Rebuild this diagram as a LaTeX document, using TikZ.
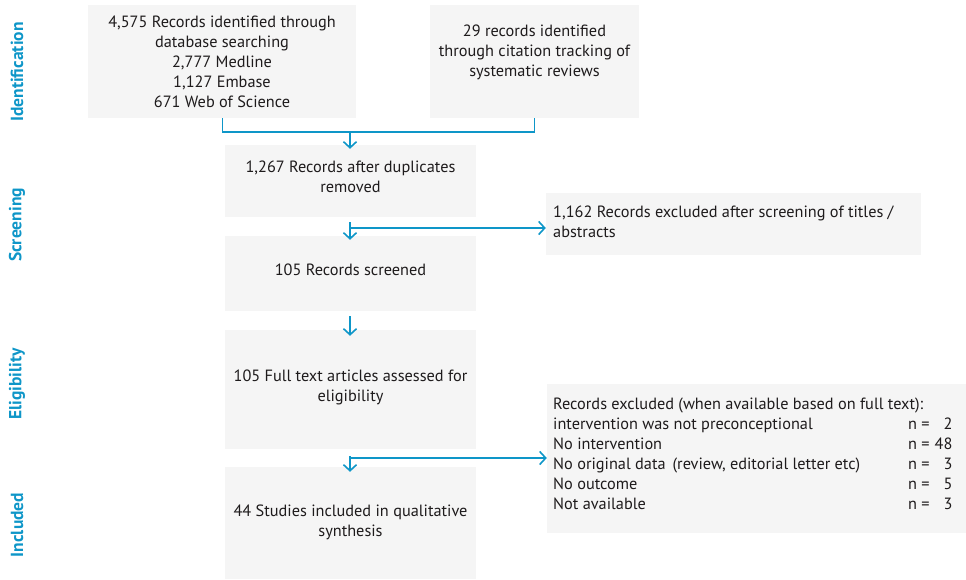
\documentclass[tikz,border=0pt]{standalone}
\usepackage{fontspec}
\setmainfont{PT Sans}
\usetikzlibrary{arrows.meta}
\definecolor{flowblue}{HTML}{0E96C8}
\definecolor{boxfill}{HTML}{F5F5F5}
\definecolor{inktext}{HTML}{1E1B1C}
\tikzset{
  panel/.style={fill=boxfill, draw=none, inner sep=0pt},
  body/.style={font=\fontsize{16.3}{20}\selectfont, text=inktext, inner sep=0pt},
  stage/.style={font=\fontsize{17.5}{20}\selectfont\bfseries, text=flowblue, rotate=90, inner sep=0pt},
  link/.style={draw=flowblue, line width=1.6pt},
  flow/.style={link, -{Straight Barb[length=6pt,width=13pt,line width=1.6pt]}},
}
\begin{document}
\begin{tikzpicture}[x=1pt, y=-1pt]
\useasboundingbox (0,0) rectangle (966,579);

% stage labels
\node[stage] (lid) at (17,72) {Identification};
\node[stage] (lsc) at (17,225) {Screening};
\node[stage] (lel) at (17,384) {Eligibility};
\node[stage] (lin) at (17,525) {Included};

% boxes
\node[panel, minimum width=268pt, minimum height=113pt] (dbs) at (222,61.5) {};
\node[panel, minimum width=209pt, minimum height=113pt] (cit) at (534.5,61.5) {};
\node[panel, minimum width=251pt, minimum height=72pt] (dup) at (350.5,181) {};
\node[panel, minimum width=251pt, minimum height=75pt] (scr) at (350.5,273.5) {};
\node[panel, minimum width=251pt, minimum height=119pt] (ful) at (350.5,389.5) {};
\node[panel, minimum width=251pt, minimum height=112pt] (inc) at (350.5,523) {};
\node[panel, minimum width=375pt, minimum height=62pt] (ex1) at (733.5,224) {};
\node[panel, minimum width=419pt, minimum height=149pt] (ex2) at (756.5,458.5) {};

% texts
\node[body, align=center] (tdbs) at (222,62) {4,575 Records identified through\\database searching\\2,777 Medline\\1,127 Embase\\671 Web of Science};
\node[body, align=center] (tcit) at (534.5,52) {29 records identified\\through citation tracking of\\systematic reviews};
\node[body, align=center] (tdup) at (350.5,177) {1,267 Records after duplicates\\removed};
\node[body, align=center] (tscr) at (350.5,270) {105 Records screened};
\node[body, align=center] (tful) at (350.5,387) {105 Full text articles assessed for\\eligibility};
\node[body, align=center] (tinc) at (350.5,522) {44 Studies included in qualitative\\synthesis};
\node[body, align=left, anchor=west] (tex1) at (553,221.5) {1,162 Records excluded after screening of titles /\\abstracts};
\node[body, anchor=west] (tex2) at (553,455) {\renewcommand\arraystretch{1}%
\begin{tabular}{@{}p{355pt}@{}l@{\hspace{5pt}}r@{}}
\multicolumn{3}{@{}l@{}}{Records excluded (when available based on full text):}\\
intervention was not preconceptional & n = & 2\\
No intervention & n = & 48\\
No original data\ \,(review, editorial letter etc) & n = & 3\\
No outcome & n = & 5\\
Not available & n = & 3
\end{tabular}};

% connectors
\coordinate (join) at (350,132);
\coordinate (cutA) at (350,228);
\coordinate (cutB) at (350,458);
\draw[link] ([xshift=0.5pt]dbs.south) |- (join) -| (cit.south);
\draw[flow, shorten >=-4pt] (join) -- (dup.north -| join);
\draw[flow, shorten <=5pt, shorten >=-4pt] (dup.south -| join) -- (scr.north -| join);
\draw[flow] (cutA) -- (ex1.west |- cutA);
\draw[flow, shorten <=5pt, shorten >=-6pt] (scr.south -| join) -- (ful.north -| join);
\draw[flow, shorten <=7pt, shorten >=-5pt] (ful.south -| join) -- (inc.north -| join);
\draw[flow] (cutB) -- (ex2.west |- cutB);
\end{tikzpicture}
\end{document}
